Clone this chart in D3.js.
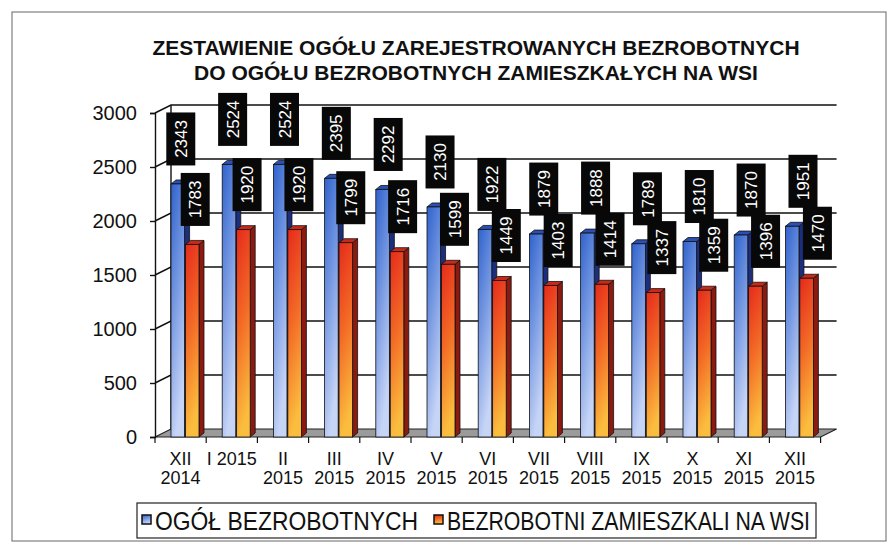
<!DOCTYPE html>
<html>
<head>
<meta charset="utf-8">
<script src="https://cdn.jsdelivr.net/npm/d3@7/dist/d3.min.js"></script>
<style>
	body { margin: 0; background: #fff; }
	svg { display: block; font-family: "Liberation Sans", Arial, sans-serif; }
</style>
</head>
<body>
<svg id="chart" width="890" height="544"></svg>
<script>
	//chart data
var categories = ["XII\n2014", "I 2015", "II\n2015", "III\n2015", "IV\n2015", "V\n2015", "VI\n2015",
	"VII\n2015", "VIII\n2015", "IX\n2015", "X\n2015", "XI\n2015", "XII\n2015"];
var ogolBezrobotnych = [2343, 2524, 2524, 2395, 2292, 2130, 1922, 1879, 1888, 1789, 1810, 1870, 1951];
var zamieszkaliNaWsi = [1783, 1920, 1920, 1799, 1716, 1599, 1449, 1403, 1414, 1337, 1359, 1396, 1470];
var seriesNames = ["OGÓŁ BEZROBOTNYCH", "BEZROBOTNI ZAMIESZKALI NA WSI"];
var yTicks = [0, 500, 1000, 1500, 2000, 2500, 3000];
var titleLines = ["ZESTAWIENIE OGÓŁU ZAREJESTROWANYCH BEZROBOTNYCH", "DO OGÓŁU BEZROBOTNYCH ZAMIESZKAŁYCH NA WSI"];

var svg = d3.select("#chart");

	//3d depth of the walls and of the bars
var DX = 16, DY = -8;
var BDX = 5, BDY = -4;

var x = d3.scaleBand().domain(d3.range(categories.length)).range([155, 820.6]);
var x1 = d3.scaleBand().domain([0, 1]).range([16, 44]).paddingInner(0.06);
var y = d3.scaleLinear().domain([0, 3000]).range([437, 113]);

var series = [
	{ name: seriesNames[0], values: ogolBezrobotnych, fill: "url(#gBlue)", side: "#1d2f7c", top: "#2b4fb2" },
	{ name: seriesNames[1], values: zamieszkaliNaWsi, fill: "url(#gOrange)", side: "#8c1a10", top: "#c92a17" }
];

	//gradients
var defs = svg.append("defs");
var gb = defs.append("linearGradient").attr("id", "gBlue").attr("x1", 0).attr("y1", 0).attr("x2", 0.35).attr("y2", 1);
gb.append("stop").attr("offset", 0).attr("stop-color", "#2f62cc");
gb.append("stop").attr("offset", 0.45).attr("stop-color", "#6f93e0");
gb.append("stop").attr("offset", 1).attr("stop-color", "#c6d4f6");
var go = defs.append("linearGradient").attr("id", "gOrange").attr("x1", 0).attr("y1", 0).attr("x2", 0.2).attr("y2", 1);
go.append("stop").attr("offset", 0).attr("stop-color", "#e52a1c");
go.append("stop").attr("offset", 0.5).attr("stop-color", "#f36a26");
go.append("stop").attr("offset", 1).attr("stop-color", "#fbbd3e");

	//outer frame
svg.append("rect").attr("x", 12).attr("y", 12).attr("width", 874).attr("height", 529)
	.attr("fill", "none").attr("stroke", "#666").attr("stroke-width", 1);

	//title
svg.append("g").selectAll("text").data(titleLines).enter().append("text")
	.attr("x", 476).attr("y", function(d, i) { return 55 + i * 25; })
	.attr("text-anchor", "middle").attr("font-size", 21).attr("font-weight", "bold")
	.attr("fill", "#111").text(function(d) { return d; });

var x0 = x.range()[0], xEnd = x.range()[1];

	//back wall gridlines and left wall diagonals
svg.append("g").selectAll("path").data(yTicks.slice(1)).enter().append("path")
	.attr("d", function(d) {
		return "M" + x0 + "," + y(d) + "L" + (x0 + DX) + "," + (y(d) + DY) + "L" + (xEnd + DX) + "," + (y(d) + DY);
	})
	.attr("fill", "none").attr("stroke", "#111").attr("stroke-width", 1.4);

svg.append("line").attr("x1", x0 + DX).attr("x2", x0 + DX)
	.attr("y1", y(0) + DY).attr("y2", y(3000) + DY).attr("stroke", "#111").attr("stroke-width", 1.4);

	//floor
svg.append("path")
	.attr("d", "M" + x0 + "," + y(0) + "L" + xEnd + "," + y(0) + "L" + (xEnd + DX) + "," + (y(0) + DY) +
		"L" + (x0 + DX) + "," + (y(0) + DY) + "Z")
	.attr("fill", "#9b9b9b").attr("stroke", "#222").attr("stroke-width", 1.2);

	//y axis
var yAxis = d3.axisLeft(y).tickValues(yTicks).tickFormat(d3.format("d")).tickSize(5).tickPadding(13);
var yg = svg.append("g").attr("transform", "translate(" + x0 + ",0)").call(yAxis);
yg.selectAll("text").attr("font-size", 20).attr("fill", "#111").attr("font-family", "Liberation Sans, Arial, sans-serif");
yg.selectAll("line, path").attr("stroke", "#111").attr("stroke-width", 1.4);

	//x axis ticks and labels
var xTicks = d3.range(categories.length + 1);
svg.append("g").selectAll("line").data(xTicks).enter().append("line")
	.attr("x1", function(d) { return x0 + d * x.step(); })
	.attr("x2", function(d) { return x0 + d * x.step(); })
	.attr("y1", y(0)).attr("y2", y(0) + 6)
	.attr("stroke", "#111").attr("stroke-width", 1.2);

var xl = svg.append("g").selectAll("text").data(categories).enter().append("text")
	.attr("text-anchor", "middle").attr("font-size", 18).attr("fill", "#111");
xl.each(function(d, i) {
	var t = d3.select(this);
	d.split("\n").forEach(function(line, j) {
		t.append("tspan").attr("x", x(i) + x.bandwidth() / 2).attr("y", 465 + j * 19).text(line);
	});
});

	//bars
var bars = svg.append("g");
categories.forEach(function(c, i) {
	series.forEach(function(s, k) {
		var bx = x(i) + x1(k), w = x1.bandwidth();
		var yt = y(s.values[i]), yb = y(0);
		var g = bars.append("g").attr("stroke", "#111").attr("stroke-width", 0.8);
		g.append("path")
			.attr("d", "M" + (bx + w) + "," + yb + "L" + (bx + w + BDX) + "," + (yb + BDY) +
				"L" + (bx + w + BDX) + "," + (yt + BDY) + "L" + (bx + w) + "," + yt + "Z")
			.attr("fill", s.side);
		g.append("path")
			.attr("d", "M" + bx + "," + yt + "L" + (bx + BDX) + "," + (yt + BDY) +
				"L" + (bx + w + BDX) + "," + (yt + BDY) + "L" + (bx + w) + "," + yt + "Z")
			.attr("fill", s.top);
		g.append("rect").attr("x", bx).attr("y", yt).attr("width", w).attr("height", yb - yt)
			.attr("fill", s.fill);
	});
});

	//value labels (black boxes, rotated text)
var labels = svg.append("g");
series.forEach(function(s, k) {
	s.values.forEach(function(v, i) {
		var cx = x(i) + x1(k) + x1.bandwidth() / 2 + 3 + 0.65 * i;
		var cy = y(v) - 45;
		var g = labels.append("g").attr("transform", "translate(" + cx + "," + cy + ") rotate(-90)");
		g.append("rect").attr("x", -26.5).attr("y", -14.5).attr("width", 53).attr("height", 29).attr("fill", "#080808");
		g.append("text").attr("text-anchor", "middle").attr("dy", "0.36em")
			.attr("font-size", 17).attr("fill", "#fff").text(v);
	});
});

	//legend
var legend = svg.append("g");
legend.append("rect").attr("x", 137).attr("y", 503).attr("width", 679).attr("height", 35)
	.attr("fill", "#fff").attr("stroke", "#222").attr("stroke-width", 1.2);
var legendPos = [{ mx: 142, tx: 155, tw: 263 }, { mx: 434, tx: 447, tw: 363 }];
series.forEach(function(s, k) {
	var p = legendPos[k];
	legend.append("rect").attr("x", p.mx).attr("y", 515).attr("width", 9).attr("height", 9)
		.attr("fill", s.fill).attr("stroke", "#111").attr("stroke-width", 1.5);
	legend.append("text").attr("x", p.tx).attr("y", 530)
		.attr("font-family", "Liberation Sans Narrow, Arial Narrow, Liberation Sans, sans-serif")
		.attr("font-size", 26).attr("fill", "#111")
		.attr("textLength", p.tw).attr("lengthAdjust", "spacingAndGlyphs")
		.text(s.name);
});
</script>
</body>
</html>
